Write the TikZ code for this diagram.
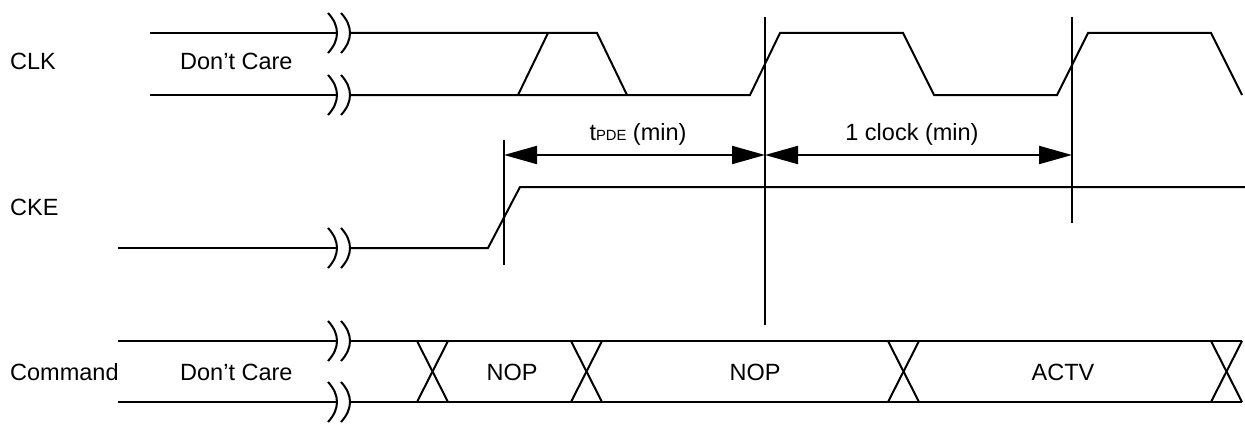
\documentclass[tikz,border=0pt]{standalone}
\usepackage{fontspec}
\setmainfont{Liberation Sans}
\usetikzlibrary{arrows.meta}
\newcommand\sigbreak[1]{%
  \draw[sig] (328,#1-20) .. controls (340,#1-7) and (340,#1+7) .. (328,#1+20);
  \draw[sig] (341,#1-20) .. controls (353,#1-7) and (353,#1+7) .. (341,#1+20);}
\begin{document}
\begin{tikzpicture}[x=1pt,y=-1pt,
  sig/.style={line width=2pt, line join=miter},
  vline/.style={line width=2pt},
  dimline/.style={line width=2pt, {Triangle[length=33pt,width=18pt]}-{Triangle[length=33pt,width=18pt]}},
  lbl/.style={font=\fontsize{23.5}{28}\selectfont, inner sep=0pt},
]
\useasboundingbox (0,0) rectangle (1245,428);

% labels
\node[lbl, anchor=base west] (clk) at (10,70) {CLK};
\node[lbl, anchor=base west] (cke) at (10,215) {CKE};
\node[lbl, anchor=base west] (cmd) at (10,380) {Command};
\node[lbl, anchor=base west] (dc1) at (180,70) {Don’t Care};
\node[lbl, anchor=base west] (dc2) at (180,380) {Don’t Care};
\node[lbl, anchor=base] (nop1) at (512,380) {NOP};
\node[lbl, anchor=base] (nop2) at (755,380) {NOP};
\node[lbl, anchor=base] (actv) at (1063,380) {ACTV};
\node[lbl, anchor=base] (tpde) at (638,140) {t{\fontsize{14.8}{16}\selectfont PDE} (min)};
\node[lbl, anchor=base] (oneclk) at (912,140) {1 clock (min)};

% CLK
\draw[sig] (150,33) -- (337,33);
\draw[sig] (150,95) -- (337,95);
\sigbreak{33}
\sigbreak{95}
\draw[sig] (350,33) -- (597,33) -- (627,95);
\draw[sig] (518,95) -- (548,33);
\draw[sig] (350,95) -- (750,95) -- (780,33) -- (903,33) -- (934,95) -- (1057,95)
  -- (1088,33) -- (1211,33) -- (1242,95);

% CKE
\draw[sig] (118,248) -- (337,248);
\sigbreak{248}
\draw[sig] (350,248) -- (488,248) -- (520,187) -- (1245,187);

% Command
\draw[sig] (118,341) -- (337,341);
\draw[sig] (118,402) -- (337,402);
\sigbreak{341}
\sigbreak{402}
\draw[sig] (350,341) -- (1242,341);
\draw[sig] (350,402) -- (1242,402);
\foreach \a in {417,571,888,1211}{
  \draw[sig] (\a,341) -- (\a+31,402);
  \draw[sig] (\a,402) -- (\a+31,341);
}

% vertical reference lines
\coordinate (v1t) at (504,140); \coordinate (v1b) at (504,265);
\coordinate (v2t) at (765,17);  \coordinate (v2b) at (765,325);
\coordinate (v3t) at (1072,17); \coordinate (v3b) at (1072,223);
\draw[vline] (v1t) -- (v1b);
\draw[vline] (v2t) -- (v2b);
\draw[vline] (v3t) -- (v3b);

% dimension arrows
\coordinate (a1) at (504,155);
\coordinate (a2) at (765,155);
\coordinate (a3) at (1072,155);
\draw[dimline] (a1) -- (a2);
\draw[dimline] (a2) -- (a3);
\end{tikzpicture}
\end{document}
